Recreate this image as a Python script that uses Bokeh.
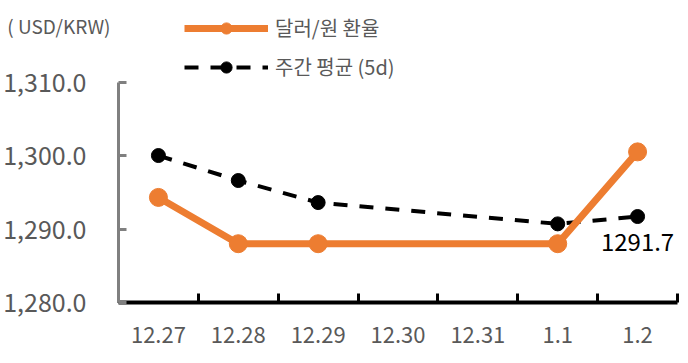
from bokeh.plotting import figure
from bokeh.models import (Range1d, FixedTicker, NumeralTickFormatter, Legend,
                          LegendItem, LabelSet, ColumnDataSource, LinearAxis)
from bokeh.core.properties import value
from bokeh.embed import file_html
from bokeh.resources import INLINE

# ---- data ----
categories = ["12.27", "12.28", "12.29", "12.30", "12.31", "1.1", "1.2"]
usd_krw = [1294.3, 1288.0, 1288.0, None, None, 1288.0, 1300.5]
weekly_avg = [1300.0, 1296.6, 1293.6, None, None, 1290.7, 1291.7]
y_ticks = [1280, 1290, 1300, 1310]
unit_label = "( USD/KRW)"
series_names = ["달러/원 환율", "주간 평균 (5d)"]

FONT = "Noto Sans CJK KR"
ORANGE = "#ED7D31"
GRAY_TXT = "#595959"
AXIS_GRAY = "#808080"
UNIT_POS = 1317.7   # vertical position of the unit caption (layout, not data)


def pts(vals):
    xs = [i + 0.5 for i, v in enumerate(vals) if v is not None]
    ys = [v for v in vals if v is not None]
    return xs, ys


n = len(categories)
p = figure(width=688, height=360,
           x_range=Range1d(0, n), y_range=Range1d(1280, 1321.1),
           output_backend="svg", toolbar_location=None,
           min_border_left=117, min_border_right=11,
           min_border_top=0, min_border_bottom=58)
p.outline_line_color = None
p.grid.visible = False
p.background_fill_color = "white"

# x axis: labels at category centres, ticks between categories
xa = p.xaxis[0]
xa.ticker = FixedTicker(ticks=[i + 0.5 for i in range(n)],
                        minor_ticks=list(range(n + 1)))
xa.major_label_overrides = {i + 0.5: c for i, c in enumerate(categories)}
xa.major_tick_line_color = None
xa.major_tick_in = 0
xa.major_tick_out = 0
xa.minor_tick_in = 9
xa.minor_tick_out = 0
xa.minor_tick_line_color = "black"
xa.minor_tick_line_width = 3
xa.axis_line_color = "black"
xa.axis_line_width = 4
xa.major_label_text_font = FONT
xa.major_label_text_font_size = "22px"
xa.major_label_text_color = GRAY_TXT
xa.major_label_standoff = 24

# y axis
ya = p.yaxis[0]
ya.ticker = FixedTicker(ticks=y_ticks, minor_ticks=[])
ya.formatter = NumeralTickFormatter(format="0,0.0")
ya.bounds = (y_ticks[0], y_ticks[-1])
ya.axis_line_color = AXIS_GRAY
ya.axis_line_width = 3
ya.major_tick_in = 8
ya.major_tick_out = 0
ya.major_tick_line_color = AXIS_GRAY
ya.major_tick_line_width = 3
ya.minor_tick_line_color = None
ya.major_label_text_font = FONT
ya.major_label_text_font_size = "25px"
ya.major_label_text_color = GRAY_TXT
ya.major_label_standoff = 32

# unit caption as the single label of an outer, line-less left axis
unit_axis = LinearAxis(ticker=FixedTicker(ticks=[UNIT_POS], minor_ticks=[]),
                       major_label_overrides={UNIT_POS: unit_label},
                       axis_line_color=None, major_tick_line_color=None,
                       minor_tick_line_color=None, major_tick_in=0,
                       major_tick_out=0, minor_tick_in=0, minor_tick_out=0,
                       major_label_standoff=-110,
                       major_label_text_font=FONT,
                       major_label_text_font_size="19px",
                       major_label_text_color=GRAY_TXT)
p.add_layout(unit_axis, "left")

# series
bx, by = pts(weekly_avg)
r3 = p.line(bx, by, line_color="black", line_width=4, line_dash="14 12")
r4 = p.scatter(bx, by, size=14, fill_color="black", line_color="black")

ox, oy = pts(usd_krw)
r1 = p.line(ox, oy, line_color=ORANGE, line_width=7, line_join="round")
r2 = p.scatter(ox, oy, size=18, fill_color=ORANGE, line_color=ORANGE)

# data label for last weekly average point
lab_src = ColumnDataSource(dict(x=[bx[-1]], y=[by[-1]],
                                text=[f"{by[-1]:.1f}"]))
p.add_layout(LabelSet(x="x", y="y", text="text", source=lab_src,
                      text_align="center", text_baseline="middle",
                      y_offset=-25, text_font=value(FONT),
                      text_font_size=value("24px"),
                      text_color=value("black")))

legend = Legend(items=[LegendItem(label=series_names[0], renderers=[r1, r2]),
                       LegendItem(label=series_names[1], renderers=[r3, r4])],
                location=(66, 221), glyph_width=84, glyph_height=28,
                label_height=28, label_standoff=7, spacing=10,
                padding=0, margin=0, border_line_color=None,
                background_fill_alpha=0, label_text_font=FONT,
                label_text_font_size="20px", label_text_color=GRAY_TXT)
p.add_layout(legend)

open("out.html", "w").write(file_html(p, INLINE))
